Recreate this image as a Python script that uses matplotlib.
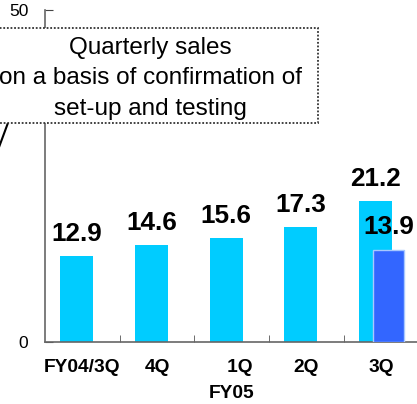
import numpy as np
import matplotlib
matplotlib.use("Agg")
import matplotlib.pyplot as plt
from matplotlib.patches import Rectangle
from matplotlib.lines import Line2D

plt.rcParams['font.family'] = ['Liberation Sans', 'DejaVu Sans']

# data
quarters = ["FY04/3Q", "4Q", "   1Q", "2Q", "3Q"]
sales = [12.9, 14.6, 15.6, 17.3, 21.2]
extra_q = [4]
extra_sales = [13.9]

light = "#00CCFF"
dark = "#3366FF"

fig = plt.figure(figsize=(4.17, 4.04), dpi=100)
ax = fig.add_axes([0.108, 0.1535, 0.895, 0.8218])

x = np.arange(len(quarters))
ax.bar(x - 0.074, sales, width=0.44, color=light, zorder=2)
ax.bar(np.array(extra_q) + 0.105, extra_sales, width=0.415, color=dark,
       edgecolor="#A8C8FF", linewidth=1, zorder=3)

for xi, v in zip(x - 0.074, sales):
    ax.annotate(f"{v:.1f}", (xi, v), xytext=(0, 16), textcoords="offset points",
                ha="center", va="center", fontsize=18.8, fontweight="bold", zorder=4)
for xi, v in zip(np.array(extra_q) + 0.105, extra_sales):
    ax.annotate(f"{v:.1f}", (xi, v), xytext=(0, 16), textcoords="offset points",
                ha="center", va="center", fontsize=18.8, fontweight="bold", zorder=4)

ax.set_xlim(-0.5, 4.5)
ax.set_ylim(0, 50)
ax.set_yticks([0, 50])
ax.set_yticklabels(["0", "50"], fontsize=12.5)
ax.set_xticks(x)
ax.set_xticklabels(quarters, fontsize=13.8, fontweight="bold")
ax.set_xticks(np.arange(0.5, 4.5, 1), minor=True)
ax.tick_params(axis="x", which="major", length=0, pad=12)
ax.tick_params(axis="x", which="minor", direction="in", length=5, color="#555555")
ax.tick_params(axis="y", direction="in", length=6, color="#444444", pad=12)

for s in ["top", "right"]:
    ax.spines[s].set_visible(False)
for s in ["left", "bottom"]:
    ax.spines[s].set_color("#666666")
    ax.spines[s].set_linewidth(1.2)

ax.text(2, -0.155, "FY05", transform=ax.get_xaxis_transform(), ha="center",
        va="center", fontsize=13.8, fontweight="bold")

# note box
box = Rectangle((-0.043, 0.6955), 0.806, 0.2352, transform=fig.transFigure,
                facecolor="white", edgecolor="#333333", linewidth=1.3,
                linestyle=(0, (1, 1)), zorder=10, clip_on=False)
fig.add_artist(box)
fig.text(0.36, 0.806, "Quarterly sales\non a basis of confirmation of\nset-up and testing",
         ha="center", va="center", fontsize=17.5, linespacing=1.48, zorder=11)
fig.add_artist(Line2D([0.019, -0.003], [0.6955, 0.634], transform=fig.transFigure,
                      color="black", linewidth=1.5))

fig.savefig("out.png", dpi=100)
